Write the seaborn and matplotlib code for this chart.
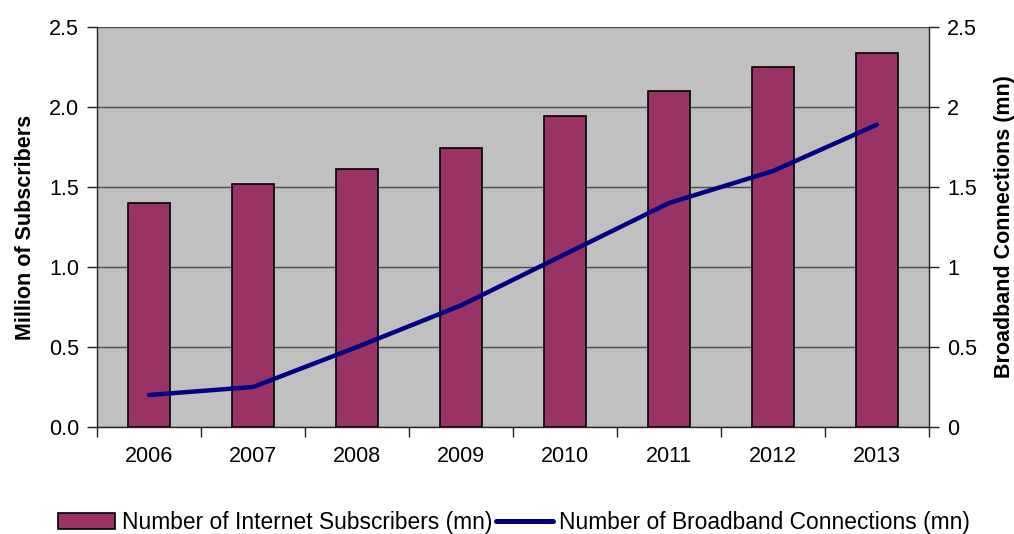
import matplotlib
matplotlib.use("Agg")
import matplotlib.pyplot as plt
from matplotlib.ticker import FormatStrFormatter, FixedLocator, MultipleLocator
from matplotlib.patches import Patch
from matplotlib.lines import Line2D
import numpy as np
import pandas as pd
import seaborn as sns

years = ["2006", "2007", "2008", "2009", "2010", "2011", "2012", "2013"]
internet_subscribers = [1.40, 1.52, 1.61, 1.745, 1.945, 2.10, 2.25, 2.34]
broadband_connections = [0.20, 0.25, 0.50, 0.76, 1.08, 1.40, 1.60, 1.89]

bar_label = "Number of Internet Subscribers (mn)"
line_label = "Number of Broadband Connections (mn)"

sns.set_theme(style="white")
plt.rcParams["font.family"] = ["Liberation Sans", "DejaVu Sans"]
plt.rcParams["text.color"] = "black"
plt.rcParams["axes.labelcolor"] = "black"
plt.rcParams["xtick.color"] = "black"
plt.rcParams["ytick.color"] = "black"

df = pd.DataFrame({
    "year": years,
    "subscribers": internet_subscribers,
    "broadband": broadband_connections,
    "pos": np.arange(len(years)),
})

fig = plt.figure(figsize=(10.14, 5.34), dpi=100)
ax = fig.add_axes([0.0957, 0.2004, 0.8205, 0.749])
ax.set_facecolor("#C0C0C0")

bar_color = "#993366"
line_color = "#000080"

sns.barplot(data=df, x="year", y="subscribers", color=bar_color, width=0.4,
            edgecolor="black", linewidth=1.2, saturation=1, ax=ax, zorder=3)

ax.set_ylim(0, 2.5)
ax.set_xlim(-0.5, len(years) - 0.5)
ax.yaxis.set_major_locator(MultipleLocator(0.5))
ax.yaxis.set_major_formatter(FormatStrFormatter("%.1f"))
ax.grid(axis="y", color="#4a4a4a", linewidth=1.0, zorder=0)
ax.set_axisbelow(True)

ax2 = ax.twinx()
sns.lineplot(data=df, x="pos", y="broadband", color=line_color, linewidth=3.2,
             ax=ax2, zorder=4, solid_capstyle="round")
ax2.set_ylim(0, 2.5)
ax2.set_xlim(-0.5, len(years) - 0.5)
ax2.yaxis.set_major_locator(MultipleLocator(0.5))
ax2.yaxis.set_major_formatter(FormatStrFormatter("%g"))

# Axis labels
ax.set_xlabel("")
ax.set_ylabel("Million of Subscribers", fontsize=15.5, fontweight="bold",
              labelpad=9)
ax2.set_xlabel("")
ax2.set_ylabel("Broadband Connections (mn)", fontsize=15.5, fontweight="bold",
               labelpad=12)

# Spines and ticks
for a in (ax, ax2):
    for s in a.spines.values():
        s.set_visible(False)
ax.spines["left"].set_visible(True)
ax.spines["bottom"].set_visible(True)
ax2.spines["right"].set_visible(True)
for sp in (ax.spines["left"], ax.spines["bottom"], ax2.spines["right"]):
    sp.set_color("#222222")
    sp.set_linewidth(1.0)

ax.tick_params(axis="y", which="major", direction="out", length=7, width=1,
               color="#222222", labelsize=15.5, pad=6, left=True)
ax2.tick_params(axis="y", which="major", direction="out", length=7, width=1,
                color="#222222", labelsize=15.5, pad=6, right=True)
ax.tick_params(axis="x", which="major", length=0, labelsize=15.5, pad=14)
ax.xaxis.set_minor_locator(FixedLocator(np.arange(-0.5, len(years), 1.0)))
ax.tick_params(axis="x", which="minor", direction="out", length=7, width=1,
               color="#222222", bottom=True)
ax2.tick_params(axis="x", which="both", length=0, labelbottom=False)

handles = [
    Patch(facecolor=bar_color, edgecolor="black", linewidth=1.2, label=bar_label),
    Line2D([0], [0], color=line_color, linewidth=3.6, label=line_label),
]
fig.legend(handles=handles, loc="center", bbox_to_anchor=(0.507, 0.022),
           ncol=2, frameon=False, fontsize=16.4, handlelength=2.5,
           handleheight=0.7, handletextpad=0.3, columnspacing=0.15,
           borderpad=0.0)

fig.savefig("out.png", dpi=100, facecolor="white")
